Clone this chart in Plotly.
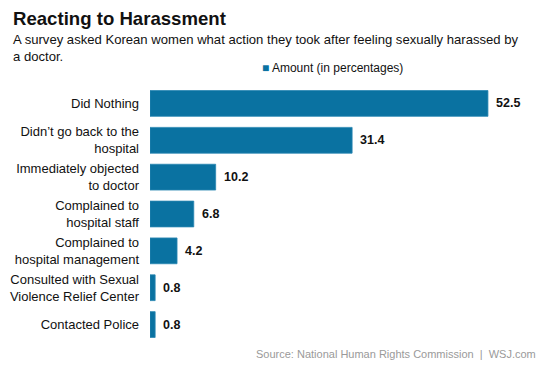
import plotly.graph_objects as go

categories = [
    "Did Nothing",
    "Didn’t go back to the<br>hospital",
    "Immediately objected<br>to doctor",
    "Complained to<br>hospital staff",
    "Complained to<br>hospital management",
    "Consulted with Sexual<br>Violence Relief Center",
    "Contacted Police",
]
values = [52.5, 31.4, 10.2, 6.8, 4.2, 0.8, 0.8]
value_labels = ["52.5", "31.4", "10.2", "6.8", "4.2", "0.8", "0.8"]
series_name = "Amount (in percentages)"

BAR = "#0a72a1"
FONT = "Liberation Sans, Arial, sans-serif"

fig = go.Figure()
fig.add_trace(go.Bar(
    x=values, y=categories, orientation="h",
    marker=dict(color=BAR, line=dict(color="#2a86b2", width=0.8)),
    name=series_name, showlegend=False, hoverinfo="skip",
))

for v, c, t in zip(values, categories, value_labels):
    fig.add_annotation(x=v, y=c, text="<b>" + t + "</b>", showarrow=False,
                       xanchor="left", xshift=6, font=dict(size=12.5, color="#111", family=FONT))

fig.add_annotation(xref="paper", yref="paper", x=-139/383, y=1 + (85 - 18) / 258,
                   text="<b>Reacting to Harassment</b>", showarrow=False,
                   xanchor="left", yanchor="middle", font=dict(size=18.6, color="#111", family=FONT))
fig.add_annotation(xref="paper", yref="paper", x=-139/383, y=1 + (85 - 48) / 258,
                   text="A survey asked Korean women what action they took after feeling sexually harassed by<br>a doctor.",
                   showarrow=False, xanchor="left", yanchor="middle", align="left",
                   font=dict(size=13.1, color="#111", family=FONT))
fig.add_annotation(xref="paper", yref="paper", x=(260 - 150) / 383, y=1 + (85 - 68) / 258,
                   text="<span style='color:%s'>■</span> %s" % (BAR, series_name),
                   showarrow=False, xanchor="left", yanchor="middle",
                   font=dict(size=12, color="#111", family=FONT))
fig.add_annotation(xref="paper", yref="paper", x=(538 - 150) / 383, y=-(354 - 343) / 258,
                   text="Source: National Human Rights Commission  |  WSJ.com",
                   showarrow=False, xanchor="right", yanchor="middle",
                   font=dict(size=11, color="#9a9a9a", family=FONT))

fig.update_layout(
    width=553, height=369,
    margin=dict(l=150, r=20, t=85, b=26, autoexpand=False),
    paper_bgcolor="white", plot_bgcolor="white",
    bargap=0.3,
    font=dict(family=FONT, size=13, color="#111"),
    xaxis=dict(range=[0, 59.5], visible=False, fixedrange=True),
    yaxis=dict(categoryorder="array", categoryarray=categories, autorange="reversed",
               showgrid=False, zeroline=False, showline=False, ticks="",
               ticklabelstandoff=10, automargin=False, fixedrange=True,
               tickfont=dict(size=13, color="#111", family=FONT)),
)

fig.write_html("out.html", config={"displayModeBar": False},
               post_script="document.body.style.margin='0';")
